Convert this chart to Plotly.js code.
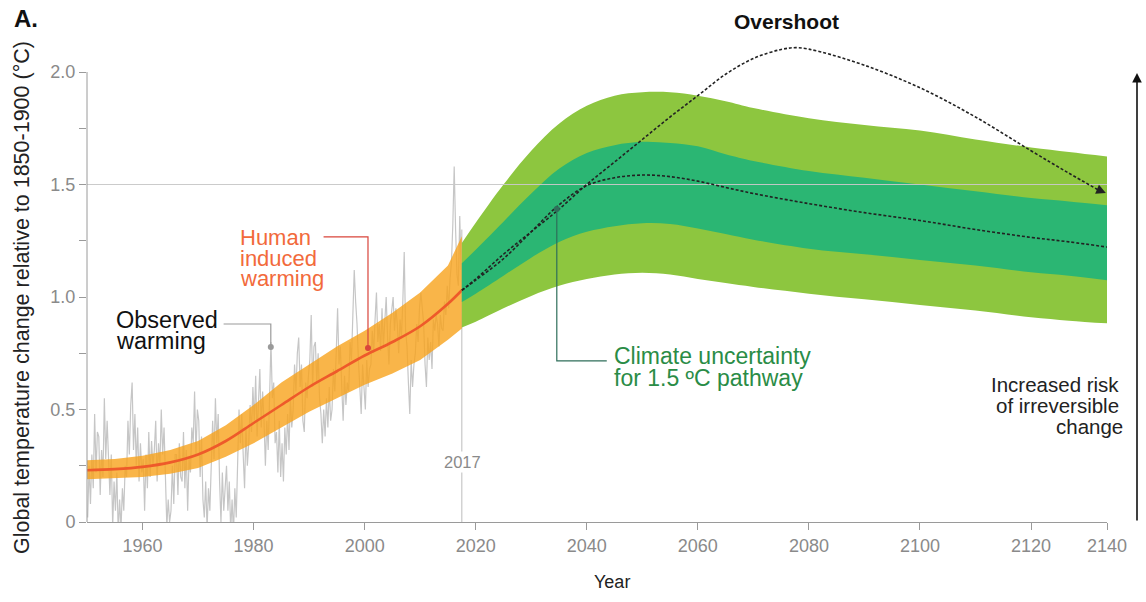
<!DOCTYPE html>
<html>
<head>
<meta charset="utf-8">
<script src="https://cdn.plot.ly/plotly-3.0.1.min.js"></script>
<style>html,body{margin:0;padding:0;background:#fff}#chart{width:1146px;height:602px}</style>
</head>
<body>
<div id="chart"></div>
<script>
// ---------- DATA ----------
// Observed warming (four readings per year, 1950-2017), °C relative to 1850-1900
const OBS_START = 1950;
const OBS_PER_YEAR = 4;
const OBS = [
  0.02,0.25,0.08,0.30,   0.15,0.48,0.22,0.40,   0.38,0.12,0.32,0.20,   0.55,0.28,0.45,0.30,   0.12,0.30,-0.02,0.18,
  0.05,0.22,-0.05,0.10,  -0.03,0.15,0.05,0.25,  0.20,0.45,0.30,0.52,   0.62,0.32,0.48,0.25,   0.42,0.18,0.35,0.22,
  0.28,0.05,0.30,0.15,   0.40,0.20,0.36,0.25,   0.32,0.45,0.18,0.35,   0.25,0.50,0.30,0.42,   0.20,-0.02,0.10,0.00,
  0.05,0.25,0.08,0.30,   0.30,0.12,0.35,0.20,   0.18,0.40,0.15,0.32,   0.05,0.28,0.22,0.42,   0.35,0.58,0.30,0.50,
  0.45,0.20,0.38,0.10,   0.02,0.18,-0.03,0.15,  0.05,0.30,0.45,0.28,   0.55,0.35,0.48,0.18,   0.00,0.22,0.05,0.15,
  0.25,0.05,0.18,-0.04,  0.10,-0.05,0.15,0.02,  0.25,0.50,0.35,0.48,   0.30,0.15,0.42,0.25,   0.35,0.52,0.40,0.60,
  0.45,0.65,0.38,0.55,   0.68,0.42,0.58,0.45,   0.25,0.45,0.32,0.55,   0.80,0.55,0.62,0.35,   0.40,0.22,0.45,0.20,
  0.35,0.18,0.42,0.30,   0.48,0.32,0.55,0.42,   0.50,0.70,0.58,0.75,   0.82,0.60,0.70,0.45,   0.40,0.62,0.55,0.65,
  0.72,0.92,0.60,0.78,   0.80,0.62,0.75,0.55,   0.48,0.35,0.50,0.38,   0.55,0.42,0.60,0.45,   0.50,0.68,0.58,0.75,
  0.95,0.70,0.78,0.60,   0.45,0.65,0.52,0.62,   0.58,0.80,0.72,0.92,   1.12,0.98,0.88,0.72,   0.60,0.48,0.70,0.58,
  0.50,0.72,0.60,0.68,   0.70,0.85,0.75,0.90,   1.02,0.80,0.88,0.76,   0.95,0.78,0.92,1.00,   0.82,0.70,0.88,0.95,
  1.00,0.85,0.95,0.88,   0.75,0.90,0.82,0.98,   1.20,0.85,0.78,0.62,   0.48,0.72,0.60,0.70,   0.75,0.88,0.80,0.95,
  1.02,0.95,0.88,0.70,   0.60,0.82,0.72,0.80,   0.68,0.90,0.85,0.92,   0.88,0.78,0.92,0.86,   0.85,0.98,0.92,1.05,
  0.95,1.08,1.15,1.32,   1.58,1.30,1.10,1.05,   1.36,1.12
];

// Human-induced warming (central estimate and likely range)
const HUMAN_YEARS = [1950,1955,1960,1965,1970,1975,1980,1985,1990,1995,2000,2005,2010,2015,2017.5];
const HUMAN_MID   = [0.23,0.235,0.245,0.265,0.30,0.36,0.44,0.52,0.60,0.67,0.74,0.80,0.87,0.97,1.03];
const HUMAN_LOW   = [0.19,0.195,0.20,0.215,0.24,0.29,0.35,0.42,0.49,0.55,0.61,0.66,0.72,0.81,0.86];
const HUMAN_HIGH  = [0.275,0.28,0.295,0.32,0.36,0.43,0.52,0.62,0.70,0.78,0.85,0.93,1.02,1.14,1.27];

// Climate uncertainty for 1.5 °C pathway
const PATH_YEARS = [2017.5,2020,2025,2030,2035,2040,2045,2050,2055,2060,2065,2070,2080,2090,2100,2110,2120,2130,2140];
const OUTER_HIGH = [1.24,1.33,1.50,1.65,1.77,1.85,1.895,1.91,1.91,1.895,1.87,1.84,1.795,1.765,1.74,1.70,1.665,1.645,1.625];
const INNER_HIGH = [1.15,1.21,1.335,1.46,1.57,1.64,1.675,1.69,1.685,1.67,1.635,1.605,1.56,1.53,1.50,1.47,1.44,1.425,1.408];
const PATH_MID   = [1.03,1.075,1.17,1.29,1.41,1.495,1.53,1.542,1.535,1.515,1.487,1.46,1.415,1.375,1.34,1.30,1.265,1.245,1.222];
const INNER_LOW  = [0.978,1.015,1.095,1.175,1.245,1.29,1.315,1.328,1.325,1.305,1.28,1.255,1.215,1.19,1.165,1.14,1.11,1.095,1.075];
const OUTER_LOW  = [0.865,0.89,0.95,1.005,1.05,1.08,1.10,1.108,1.10,1.08,1.062,1.045,1.015,0.99,0.965,0.94,0.91,0.895,0.883];

// Overshoot pathway
const OVER_YEARS = [2017.5,2020,2025,2030,2035,2040,2045,2050,2055,2060,2065,2070,2075,2078,2082,2090,2100,2110,2120,2130,2137.5];
const OVER_VALS  = [1.03,1.08,1.19,1.29,1.39,1.50,1.60,1.70,1.80,1.895,1.99,2.06,2.10,2.108,2.09,2.03,1.93,1.80,1.65,1.55,1.478];
const OVER_END   = {year: 2139.7, value: 1.462};

// Axis ticks
const X_TICK_YEARS = [1960,1980,2000,2020,2040,2060,2080,2100,2120,2140];
const Y_TICKS = [0,0.5,1.0,1.5,2.0];
const Y_TICK_TEXT = ['0','0.5','1.0','1.5','2.0'];
const Y_MINOR = [0.25,0.75,1.25,1.75];
const LIMIT = 1.5;
const YEAR_NOW = 2017.5;

// ---------- X SCALE (axis compressed after 2120, as in the original) ----------
const COMPRESS_FROM = 2120, COMPRESS = 0.684;
const xpos = y => y <= COMPRESS_FROM ? y : COMPRESS_FROM + (y - COMPRESS_FROM) * COMPRESS;
const X_MIN = 1950, X_MAX = xpos(2140);

const OBS_YEARS = OBS.map((_, i) => OBS_START + (i + 0.5) / OBS_PER_YEAR);

// pixel helpers for text placement (plot area 87..1107 x, 27..522 y)
const L = 87, R = 1107, T = 27, B = 522;
const xp = px => (px - L) / (R - L);
const yp = py => (B - py) / (B - T);

const FONT = 'Liberation Sans, Arial, Helvetica, sans-serif';

const traces = [
  {x: OBS_YEARS.map(xpos), y: OBS, mode: 'lines', line: {color: '#c6c6c6', width: 1.2}, hoverinfo: 'skip'},
  {x: HUMAN_YEARS.map(xpos), y: HUMAN_LOW, mode: 'lines', line: {width: 0}, hoverinfo: 'skip'},
  {x: HUMAN_YEARS.map(xpos), y: HUMAN_HIGH, mode: 'lines', line: {width: 0}, fill: 'tonexty', fillcolor: 'rgba(248,162,28,0.80)', hoverinfo: 'skip'},
  {x: HUMAN_YEARS.map(xpos), y: HUMAN_MID, mode: 'lines', line: {color: '#ee5a2a', width: 2.6, shape: 'spline'}},
  {x: PATH_YEARS.map(xpos), y: OUTER_LOW, mode: 'lines', line: {width: 0, shape: 'spline'}, hoverinfo: 'skip'},
  {x: PATH_YEARS.map(xpos), y: OUTER_HIGH, mode: 'lines', line: {width: 0, shape: 'spline'}, fill: 'tonexty', fillcolor: '#8dc63f'},
  {x: PATH_YEARS.map(xpos), y: INNER_LOW, mode: 'lines', line: {width: 0, shape: 'spline'}, hoverinfo: 'skip'},
  {x: PATH_YEARS.map(xpos), y: INNER_HIGH, mode: 'lines', line: {width: 0, shape: 'spline'}, fill: 'tonexty', fillcolor: '#2bb673'},
  {x: [X_MIN, X_MAX], y: [LIMIT, LIMIT], mode: 'lines', line: {color: 'rgba(200,200,200,0.95)', width: 1}, hoverinfo: 'skip'},
  {x: PATH_YEARS.map(xpos), y: PATH_MID, mode: 'lines', line: {color: '#222', width: 1.6, dash: '3px,2px', shape: 'spline'}},
  {x: OVER_YEARS.map(xpos), y: OVER_VALS, mode: 'lines', line: {color: '#222', width: 1.6, dash: '3px,2px', shape: 'spline'}}
];

const dot = (year, val, color) => ({
  type: 'circle', xref: 'x', yref: 'y', xsizemode: 'pixel', ysizemode: 'pixel',
  xanchor: xpos(year), yanchor: val, x0: -3, x1: 3, y0: -3, y1: 3,
  fillcolor: color, line: {width: 0}
});
const path = (pts, color) => ({
  type: 'path', xref: 'x', yref: 'y',
  path: pts.map((p, i) => (i ? 'L' : 'M') + xpos(p[0]) + ',' + p[1]).join(' '),
  line: {color: color, width: 1.2}
});

const shapes = [
  {type: 'line', xref: 'x', yref: 'y', x0: xpos(YEAR_NOW), x1: xpos(YEAR_NOW), y0: 0, y1: 1.3, line: {color: '#bdbdbd', width: 1}, layer: 'below'},
  {type: 'line', xref: 'paper', yref: 'y', x0: 0, x1: 0, y0: 0, y1: 2.0, line: {color: '#9a9a9a', width: 1}},
  path([[1974.6, 0.88], [1983.1, 0.88], [1983.1, 0.778]], '#9a9a9a'),
  dot(1983.1, 0.778, '#9a9a9a'),
  path([[1992.6, 1.267], [2000.6, 1.267], [2000.6, 0.773]], '#d9453b'),
  dot(2000.6, 0.773, '#d9453b'),
  path([[2034.6, 1.391], [2034.6, 0.716], [2043.6, 0.716]], '#2f6e5a'),
  dot(2034.6, 1.391, '#2f6e5a')
];

const txt = (text, px, py, size, color, anchor, extra) => Object.assign({
  text: text, xref: 'paper', yref: 'paper', x: xp(px), y: yp(py),
  xanchor: anchor || 'left', yanchor: 'middle', showarrow: false,
  font: {family: FONT, size: size, color: color}
}, extra || {});

const annotations = [
  txt('<b>A.</b>', 12, 18, 24, '#111'),
  txt('<b>Overshoot</b>', 786, 22, 21, '#111', 'center'),
  txt('Human', 238, 238, 22, '#f26a3b'),
  txt('induced', 238, 258, 22, '#f26a3b'),
  txt('warming', 238, 278, 22, '#f26a3b'),
  txt('Observed', 114, 320, 23.5, '#111'),
  txt('warming', 114, 341, 23.5, '#111'),
  txt('Climate uncertainty', 612, 356, 23, '#2a8c46'),
  txt('for 1.5 ºC pathway', 612, 378, 23, '#2a8c46'),
  txt('Increased risk', 1121, 384, 20.5, '#222', 'right'),
  txt('of irreversible', 1121, 405, 20.5, '#222', 'right'),
  txt('change', 1125, 426, 20.5, '#222', 'right'),
  txt('2017', 462, 462, 16.5, '#8a8a8a', 'center', {bgcolor: '#ffffff', borderpad: 1}),
  txt('Year', 612, 582, 18, '#222', 'center'),
  txt('Global temperature change relative to 1850-1900 (°C)', 22, 298, 21.5, '#222', 'center', {textangle: -90}),
  // overshoot arrow head
  {x: xpos(OVER_END.year), y: OVER_END.value, xref: 'x', yref: 'y',
   ax: xpos(OVER_YEARS[OVER_YEARS.length - 1]), ay: OVER_VALS[OVER_VALS.length - 1], axref: 'x', ayref: 'y',
   text: '', showarrow: true, arrowhead: 2, arrowsize: 1.2, arrowwidth: 1.6, arrowcolor: '#222', standoff: 0},
  // increasing-risk arrow
  {x: xp(1137), y: yp(73), xref: 'paper', yref: 'paper', ax: 0, ay: 449,
   text: '', showarrow: true, arrowhead: 2, arrowsize: 1.2, arrowwidth: 1.6, arrowcolor: '#111', standoff: 0}
];

const layout = {
  width: 1146, height: 602,
  margin: {l: L, r: 1146 - R, t: T, b: 602 - B},
  paper_bgcolor: '#fff', plot_bgcolor: '#fff',
  showlegend: false,
  font: {family: FONT},
  xaxis: {
    range: [X_MIN, X_MAX], showgrid: false, zeroline: false,
    showline: true, linecolor: '#9a9a9a', linewidth: 1,
    ticks: 'outside', ticklen: 7, tickcolor: '#9a9a9a',
    tickvals: X_TICK_YEARS.map(xpos), ticktext: X_TICK_YEARS.map(String),
    tickfont: {family: FONT, size: 18, color: '#8a8a8a'}
  },
  yaxis: {
    range: [0, 2.2], showgrid: false, zeroline: false, showline: false,
    ticks: 'outside', ticklen: 7, tickcolor: '#9a9a9a',
    tickvals: Y_TICKS, ticktext: Y_TICK_TEXT,
    minor: {tickvals: Y_MINOR, ticks: 'outside', ticklen: 7, tickcolor: '#9a9a9a', showgrid: false},
    tickfont: {family: FONT, size: 18, color: '#8a8a8a'}
  },
  shapes: shapes,
  annotations: annotations
};

Plotly.newPlot('chart', traces, layout, {displayModeBar: false, staticPlot: true});
</script>
</body>
</html>
